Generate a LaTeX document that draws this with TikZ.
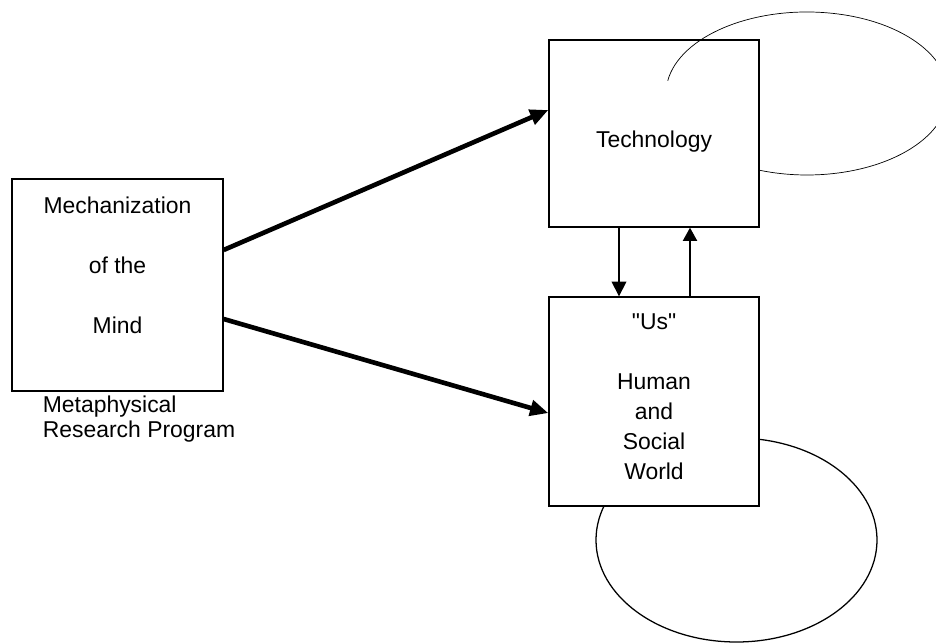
\documentclass[tikz,border=0pt]{standalone}
\usepackage{fontspec}
\setmainfont{Liberation Sans}[Ligatures=TeXOff]
\usetikzlibrary{arrows.meta,positioning}
\tikzset{
    box/.style={draw,line width=0.9pt,fill=white,inner sep=0pt},
    txt/.style={align=center,font=\fontsize{16.3}{21.3}\selectfont},
    bigarrow/.style={line width=3.3pt,-{Triangle[length=13pt,width=11pt]}},
    downarrow/.style={line width=0.8pt,-{Triangle[length=10.5pt,width=10.5pt]}},
    uparrow/.style={line width=1.5pt,-{Triangle[length=9.5pt,width=10pt]}},
}
\begin{document}
\begin{tikzpicture}
                \useasboundingbox (0,0) rectangle (23.4,16.075);
                \clip (0,0) rectangle (23.4,16.075);
                \draw[line width=0.9pt] (18.4125,2.575) ellipse[x radius=3.5125,y radius=2.55];
                \node[box,minimum width=5.275cm,minimum height=5.3cm] (mech) at (2.9375,8.95) {};
                \node[box,minimum width=5.25cm,minimum height=4.675cm] (tech) at (16.35,12.7375) {};
                \node[box,minimum width=5.25cm,minimum height=5.225cm] (us) at (16.35,6.0375) {};
                \node[txt,font=\fontsize{16.3}{42.7}\selectfont] (mechtext) at ([yshift=0.5cm]mech.center) {Mechanization\\of the\\Mind};
                \node[txt] (techtext) at ([yshift=-0.19cm]tech.center) {Technology};
                \node[txt] (ustext) at ([yshift=0.12cm]us.center) {"Us"\\[21.3pt]Human\\and\\Social\\World};
                \node[txt,align=left,anchor=north west,inner sep=0pt,font=\fontsize{16.3}{17.8}\selectfont] (meta) at ([xshift=0.78cm,yshift=-0.1cm]mech.south west) {Metaphysical\\Research Program};
                \draw[bigarrow] ([yshift=0.875cm]mech.east) -- ([yshift=0.5875cm]tech.west);
                \draw[bigarrow] ([yshift=-0.85cm]mech.east) -- ([yshift=-0.29cm]us.west);
                \draw[downarrow] ([xshift=-0.875cm]tech.south) -- ([xshift=-0.875cm]us.north);
                \draw[uparrow] ([xshift=0.9cm]us.north) -- ([xshift=0.9cm]tech.south);
                \coordinate (techloop) at (20.175,13.7375);
                \draw[line width=0.5pt] (techloop) ++(171:3.525 and 2.0375) arc[start angle=171,end angle=-110,x radius=3.525,y radius=2.0375];
\end{tikzpicture}
\end{document}
